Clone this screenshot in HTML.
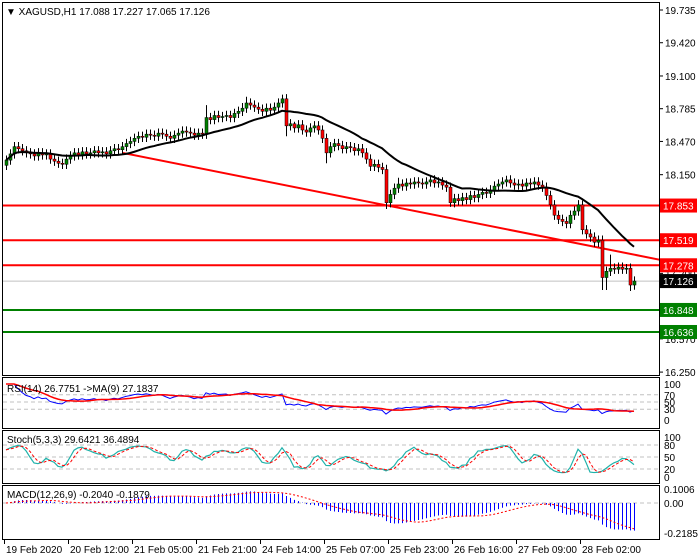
<!DOCTYPE html>
<html><head><meta charset="utf-8"><style>
html,body{margin:0;padding:0;background:#fff;}
svg{display:block;font-family:"Liberation Sans",sans-serif;font-size:10px;}
</style></head><body>
<svg id="chart" width="700" height="560" viewBox="0 0 700 560" xmlns="http://www.w3.org/2000/svg">
<rect x="0" y="0" width="700" height="560" fill="#fff"/>
<g id="frames" fill="none" stroke="#000" stroke-width="1">
<rect x="2.5" y="2.5" width="657" height="373"/>
<rect x="2.5" y="377.5" width="657" height="51"/>
<rect x="2.5" y="430.5" width="657" height="53"/>
<rect x="2.5" y="485.5" width="657" height="54"/>
</g>
<g id="layers"></g>
<text x="6" y="15" fill="#000">▼ XAGUSD,H1  17.088 17.227 17.065 17.126</text>
</svg>
<script>
const closes = [18.29,18.35,18.42,18.40,
18.38,18.36,18.35,18.33,18.36,18.34,18.35,18.30,18.28,18.26,18.25,
18.30,18.33,18.36,18.34,18.37,18.35,18.36,18.38,18.36,18.37,18.35,18.38,18.40,18.39,
18.42,18.45,18.47,18.50,18.52,18.51,18.54,18.53,18.52,18.55,18.54,18.52,18.50,18.53,18.55,18.57,18.56,18.55,18.53,18.55,18.54,
18.70,18.68,18.72,18.70,18.71,18.72,18.70,18.74,18.76,18.79,
18.84,18.82,18.80,18.78,18.76,18.79,18.77,18.80,18.84,18.88,
18.62,
18.64,18.60,18.63,18.58,18.56,18.60,18.62,18.58,18.50,18.36,
18.42,18.45,18.43,18.40,18.42,18.41,18.38,18.40,18.36,18.30,
18.23,18.25,18.22,18.20,
17.88,
17.96,18.02,18.06,18.04,
18.07,18.06,18.08,18.07,18.06,18.08,18.10,18.07,18.08,18.05,18.03,
17.88,
17.92,17.90,17.93,17.91,17.95,17.93,17.96,17.98,17.97,18.00,
18.04,18.06,18.08,18.10,18.07,18.05,18.06,18.04,18.07,18.06,18.08,18.05,18.03,
17.95,17.86,17.76,17.72,17.70,17.68,17.76,
17.80,17.86,17.62,
17.58,17.55,17.50,17.52,
17.16,
17.22,17.25,17.24,17.26,17.24,17.25,
17.088,17.126];
const firstOpen = 18.24;
const wick = 0.045;
const spikeHighs = {50:18.82,59:18.84,60:18.90,69:18.92,72:18.66,98:18.12,121:18.05,125:18.14,144:17.90,151:17.38,155:17.29};
const spikeLows = {70:18.52,80:18.26,95:17.82,111:17.84,149:17.04,150:17.04,156:17.03};
const priceTicks = [19.735,19.420,19.100,18.785,18.470,18.150,17.200,16.570,16.250];
const redLevels = [17.853,17.519,17.278];
const greenLevels = [16.848,16.636];
const lastPrice = 17.126;
const trendStart = [29.25,18.359];
const trendEnd = [163.75,17.329];
const dateLabels = ["19 Feb 2020","20 Feb 12:00","21 Feb 05:00","21 Feb 21:00","24 Feb 14:00","25 Feb 07:00","25 Feb 23:00","26 Feb 16:00","27 Feb 09:00","28 Feb 02:00"];
const dateBars = [0,16,32,48,64,80,96,112,128,144];
const rsiTicks = [100,70,50,30,0];
const stochTicks = [100,80,50,20,0];
const macdTicks = [0.1006,0.00,-0.2185];
const maPeriod = 20;

const NS="http://www.w3.org/2000/svg";
const layers=document.getElementById('layers');
function mk(tag,attrs,parent){const e=document.createElementNS(NS,tag);for(const k in attrs)e.setAttribute(k,attrs[k]);(parent||layers).appendChild(e);return e;}
const xOf=i=>6+i*4;
const yP=p=>10+(19.735-p)*103.9;
const yR=v=>420-v*0.36;
const yS=v=>477-v*0.4;
const yM=v=>503-v*137;
const N=closes.length;
const opens=closes.map((c,i)=>i===0?firstOpen:closes[i-1]);
const highs=closes.map((c,i)=>spikeHighs[i]!==undefined?spikeHighs[i]:Math.max(c,opens[i])+wick);
const lows=closes.map((c,i)=>spikeLows[i]!==undefined?spikeLows[i]:Math.min(c,opens[i])-wick);

const defs=mk('defs',{});
const cp=mk('clipPath',{id:'mainclip'},defs);mk('rect',{x:3,y:3,width:656,height:372},cp);
const main=mk('g',{'clip-path':'url(#mainclip)'});

const lp=mk('line',{x1:3,x2:659,y1:yP(lastPrice),y2:yP(lastPrice),stroke:'#c0c0c0','stroke-width':1},main);



redLevels.forEach(v=>{const l=mk('line',{x1:3,x2:659,y1:yP(v),y2:yP(v),stroke:'#ff0000','stroke-width':2},main);

});
greenLevels.forEach(v=>{const l=mk('line',{x1:3,x2:659,y1:yP(v),y2:yP(v),stroke:'#008000','stroke-width':2},main);

});
const tl=mk('line',{x1:xOf(trendStart[0]),y1:yP(trendStart[1]),x2:xOf(trendEnd[0]),y2:yP(trendEnd[1]),stroke:'#ff0000','stroke-width':2},main);



for(let i=0;i<N;i++){
 const x=xOf(i),o=opens[i],c=closes[i];
 const g=mk('g',{},main);
 
 
 mk('line',{x1:x+0.5,x2:x+0.5,y1:yP(highs[i]),y2:yP(lows[i]),stroke:'#000','stroke-width':1},g);
 const top=yP(Math.max(o,c)),bot=yP(Math.min(o,c));
 mk('rect',{x:x-1,y:top,width:3,height:Math.max(1,bot-top),fill:c>=o?'#008000':'#ff0000',stroke:'#000','stroke-width':0.5},g);
}
const ma=closes.map((c,i)=>{const s=Math.max(0,i-maPeriod+1);let t=0;for(let k=s;k<=i;k++)t+=closes[k];return t/(i-s+1);});
const maPath=mk('polyline',{points:ma.map((v,i)=>xOf(i)+','+yP(v)).join(' '),fill:'none',stroke:'#000','stroke-width':2},main);



priceTicks.forEach(v=>{const y=yP(v);mk('line',{x1:659,x2:663,y1:y,y2:y,stroke:'#000'});
 const t=mk('text',{x:665,y:y+4,fill:'#000'});t.textContent=v.toFixed(3);
 
 });
function tag(v,bg){const y=yP(v);mk('rect',{x:660,y:y-7,width:37,height:14,fill:bg});
 const t=mk('text',{x:663,y:y+4,fill:'#fff'});t.textContent=v.toFixed(3);
 
 }
redLevels.forEach(v=>tag(v,'#ff0000'));greenLevels.forEach(v=>tag(v,'#008000'));tag(lastPrice,'#000');

const rsi=new Array(N).fill(null);
{let ag=0,al=0;for(let i=1;i<N;i++){const d=closes[i]-closes[i-1],g=Math.max(d,0),l=Math.max(-d,0);
 if(i<=14){ag=(ag*(i-1)+g)/i;al=(al*(i-1)+l)/i;}else{ag=(ag*13+g)/14;al=(al*13+l)/14;}
 rsi[i]=al===0?100:100-100/(1+ag/al);}rsi[0]=rsi[1];}
const rsiMa=rsi.map((v,i)=>{const s=Math.max(0,i-8);let t=0;for(let k=s;k<=i;k++)t+=rsi[k];return t/(i-s+1);});
[70,50,30].forEach(v=>mk('line',{x1:3,x2:659,y1:yR(v),y2:yR(v),stroke:'#c0c0c0','stroke-dasharray':'4,3'}));
const rl=mk('polyline',{points:rsi.map((v,i)=>xOf(i)+','+yR(v)).join(' '),fill:'none',stroke:'#0000ff','stroke-width':1});


const rml=mk('polyline',{points:rsiMa.map((v,i)=>xOf(i)+','+yR(v)).join(' '),fill:'none',stroke:'#ff0000','stroke-width':1.5});


rsiTicks.forEach(v=>{const t=mk('text',{x:664,y:yR(v)+4,fill:'#000'});t.textContent=v;
 
 });
{const t=mk('text',{x:7,y:392,fill:'#000'});t.textContent='RSI(14) 26.7751  ->MA(9) 27.1837';

}

const raw=closes.map((c,i)=>{const s=Math.max(0,i-4);let hh=-1e9,ll=1e9;for(let k=s;k<=i;k++){hh=Math.max(hh,highs[k]);ll=Math.min(ll,lows[k]);}return hh===ll?50:(c-ll)/(hh-ll)*100;});
const sma=(a,n)=>a.map((v,i)=>{const s=Math.max(0,i-n+1);let t=0;for(let k=s;k<=i;k++)t+=a[k];return t/(i-s+1);});
const stK=sma(raw,3),stD=sma(stK,3);
[80,50,20].forEach(v=>mk('line',{x1:3,x2:659,y1:yS(v),y2:yS(v),stroke:'#c0c0c0','stroke-dasharray':'4,3'}));
const skl=mk('polyline',{points:stK.map((v,i)=>xOf(i)+','+yS(v)).join(' '),fill:'none',stroke:'#20b2aa','stroke-width':1.2});


const sdl=mk('polyline',{points:stD.map((v,i)=>xOf(i)+','+yS(v)).join(' '),fill:'none',stroke:'#ff0000','stroke-width':1,'stroke-dasharray':'3,2'});


stochTicks.forEach(v=>{const t=mk('text',{x:664,y:yS(v)+4,fill:'#000'});t.textContent=v;
 
 });
{const t=mk('text',{x:7,y:443,fill:'#000'});t.textContent='Stoch(5,3,3) 29.6421 36.4894';

}

const ema=(a,n)=>{const k=2/(n+1);let e=a[0];return a.map(v=>e=v*k+e*(1-k));};
const e12=ema(closes,12),e26=ema(closes,26);
const macd=closes.map((c,i)=>e12[i]-e26[i]);
const sig=sma(macd,9);
mk('line',{x1:3,x2:659,y1:yM(0),y2:yM(0),stroke:'#c0c0c0','stroke-dasharray':'4,3'});
macd.forEach((v,i)=>{const b=mk('line',{x1:xOf(i)+0.5,x2:xOf(i)+0.5,y1:yM(0),y2:yM(v),stroke:'#0000ff','stroke-width':1});
 
 });
const sgl=mk('polyline',{points:sig.map((v,i)=>xOf(i)+','+yM(v)).join(' '),fill:'none',stroke:'#ff0000','stroke-width':1,'stroke-dasharray':'2,2'});


macdTicks.forEach(v=>{const t=mk('text',{x:664,y:yM(v)+4,fill:'#000'});t.textContent=v===0?'0.00':v.toFixed(4);
 
 });
{const t=mk('text',{x:7,y:498,fill:'#000'});t.textContent='MACD(12,26,9) -0.2040 -0.1879';

}

dateLabels.forEach((s,j)=>{const x=xOf(dateBars[j])-2;mk('line',{x1:x+0.5,x2:x+0.5,y1:540,y2:544,stroke:'#000'});
 const t=mk('text',{x:x+2,y:553,fill:'#000'});t.textContent=s;
 
 });
</script>
</body></html>
